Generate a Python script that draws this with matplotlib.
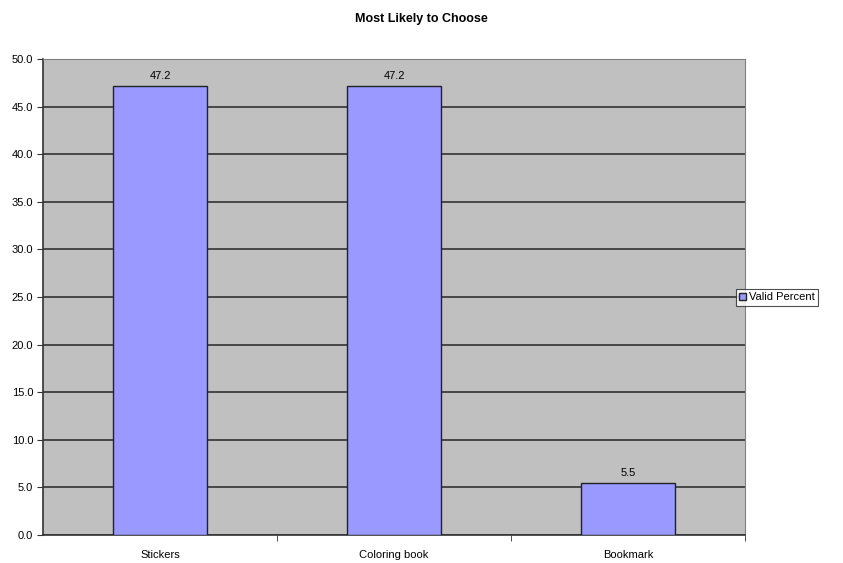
import numpy as np
import matplotlib.pyplot as plt
from matplotlib.patches import Patch

plt.rcParams['font.family'] = ['Liberation Sans', 'DejaVu Sans']

categories = ['Stickers', 'Coloring book', 'Bookmark']
valid_percent = [47.2, 47.2, 5.5]
yticks = [0.0, 5.0, 10.0, 15.0, 20.0, 25.0, 30.0, 35.0, 40.0, 45.0, 50.0]

bar_c = '#9999ff'
fs = 8
fig = plt.figure(figsize=(8.43, 5.63), dpi=100)
ax = fig.add_axes([0.051, 0.0497, 0.833, 0.8455])
ax.set_facecolor('#c0c0c0')

x = np.arange(len(categories))
ax.bar(x, valid_percent, width=0.4, color=bar_c, edgecolor='#222222', linewidth=1.0, zorder=3)
for xi, v in zip(x, valid_percent):
    ax.text(xi, v + 0.45, '%.1f' % v, ha='center', va='bottom', fontsize=fs, zorder=4)

ax.set_xlim(-0.5, 2.5)
ax.set_ylim(0, 50)
ax.set_yticks(yticks)
ax.set_yticklabels(['%.1f' % t for t in yticks], fontsize=fs)
ax.yaxis.grid(True, color='#333333', linewidth=1.2, zorder=1)
ax.set_axisbelow(True)

# category labels centred, tick marks on the category boundaries
ax.set_xticks(x)
ax.set_xticklabels(categories, fontsize=fs)
ax.tick_params(axis='x', length=0, pad=11)
ax.set_xticks([0.5, 1.5, 2.5], minor=True)
ax.tick_params(axis='x', which='minor', length=4, color='#333333', direction='out')
ax.tick_params(axis='y', length=4, color='#333333', direction='out', pad=3)

for side in ['top', 'right']:
    ax.spines[side].set_color('#808080')
    ax.spines[side].set_linewidth(0.8)
for side in ['left', 'bottom']:
    ax.spines[side].set_color('#333333')
    ax.spines[side].set_linewidth(1.2)

fig.suptitle('Most Likely to Choose', fontsize=9, weight='bold', y=0.977)

leg = fig.legend(handles=[Patch(facecolor=bar_c, edgecolor='#222222', label='Valid Percent')],
                 loc='center left', bbox_to_anchor=(0.873, 0.472), fontsize=fs,
                 frameon=True, fancybox=False, handlelength=0.6, handleheight=0.6,
                 handletextpad=0.3, borderpad=0.3, borderaxespad=0)
leg.get_frame().set_edgecolor('#222222')
leg.get_frame().set_linewidth(0.8)

fig.savefig('out.png', dpi=100)
